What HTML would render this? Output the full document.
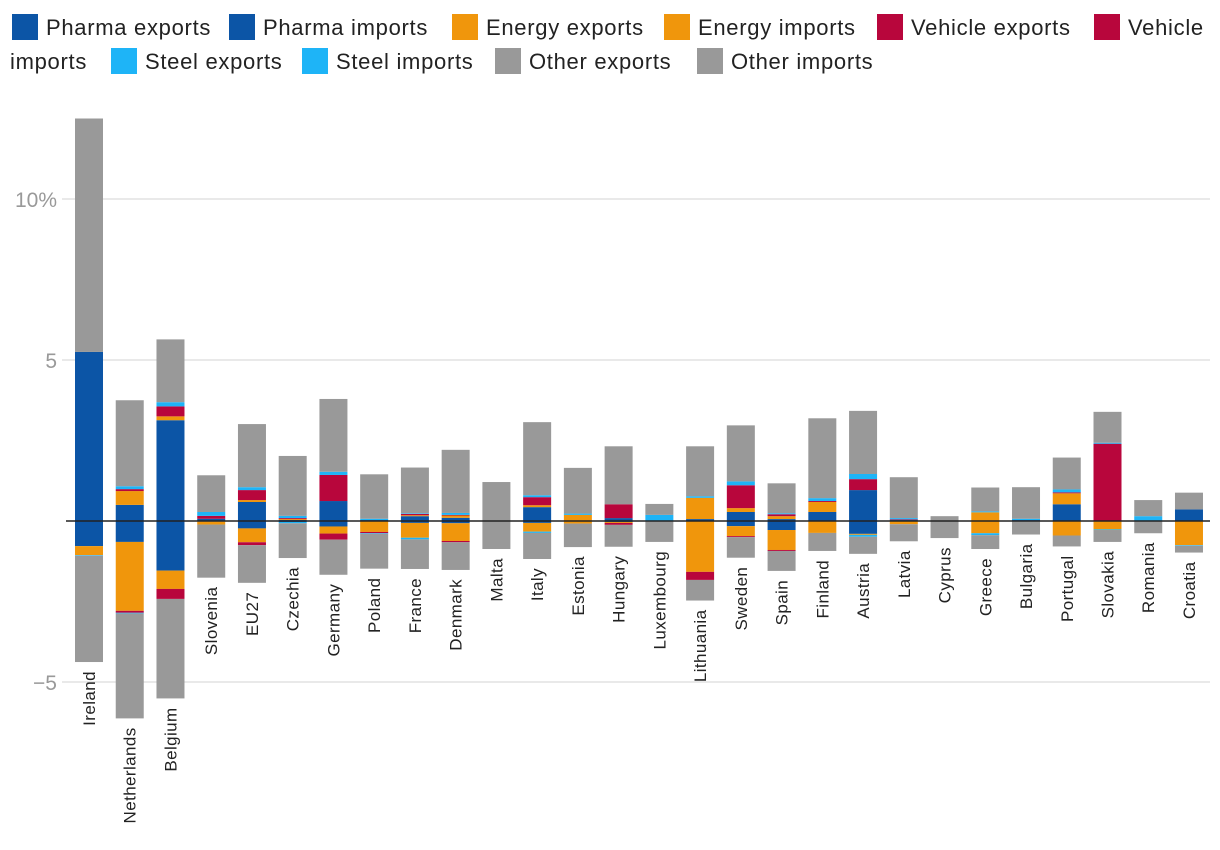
<!DOCTYPE html>
<html><head><meta charset="utf-8"><style>
body{margin:0;background:#fff;width:1220px;height:850px;overflow:hidden;font-family:"Liberation Sans",sans-serif}
svg{position:absolute;left:0;top:0}
</style></head><body>
<svg id="chart" width="1220" height="850"></svg>
<script>
const countries=["Ireland","Netherlands","Belgium","Slovenia","EU27","Czechia","Germany","Poland","France","Denmark","Malta","Italy","Estonia","Hungary","Luxembourg","Lithuania","Sweden","Spain","Finland","Austria","Latvia","Cyprus","Greece","Bulgaria","Portugal","Slovakia","Romania","Croatia"];
const pharmaExp=[5.25,0.5,3.13,0.07,0.59,0.03,0.62,0.03,0.15,0.1,0,0.43,0,0.09,0,0.06,0.28,0.06,0.28,0.96,0.03,0,0,0.03,0.52,0,0,0.36];
const energyExp=[0,0.43,0.12,0,0.06,0.03,0,0,0.03,0.07,0,0.06,0.19,0,0,0.66,0.12,0.09,0.31,0,0,0,0.27,0,0.34,0,0,0];
const vehicleExp=[0,0.06,0.31,0.09,0.31,0.03,0.81,0,0.04,0.02,0,0.25,0,0.43,0,0,0.71,0.06,0.03,0.34,0.02,0,0,0,0.03,2.4,0,0];
const steelExp=[0,0.09,0.13,0.12,0.09,0.07,0.1,0.04,0.02,0.06,0,0.06,0.04,0,0.19,0.05,0.12,0.03,0.09,0.16,0.04,0,0.03,0.04,0.09,0.03,0.15,0];
const otherExp=[7.25,2.67,1.95,1.14,1.96,1.86,2.26,1.38,1.42,1.96,1.21,2.27,1.42,1.8,0.34,1.55,1.74,0.93,2.48,1.96,1.27,0.15,0.74,0.98,0.99,0.96,0.5,0.52];
const pharmaImp=[-0.78,-0.65,-1.54,-0.02,-0.23,-0.03,-0.17,0,-0.06,-0.07,0,-0.06,0,-0.03,0,0,-0.16,-0.28,0,-0.4,0,0,0,0,0,0,0,0];
const energyImp=[-0.28,-2.14,-0.57,-0.09,-0.43,0,-0.22,-0.34,-0.46,-0.55,0,-0.27,-0.08,-0.03,0,-1.58,-0.31,-0.62,-0.37,-0.03,-0.1,0,-0.38,0,-0.45,-0.26,0,-0.75];
const vehicleImp=[0,-0.06,-0.31,0,-0.09,0,-0.19,-0.04,0,-0.04,0,0,0,-0.06,0,-0.25,-0.03,-0.03,0,0,0,0,0,0,0,0,0,0];
const steelImp=[-0.02,-0.02,0,0,0,-0.04,0,-0.02,-0.05,0,0,-0.04,0,0,0,0,0,0,0,-0.06,0,0,-0.06,0,0,-0.02,0,-0.02];
const otherImp=[-3.3,-3.26,-3.09,-1.65,-1.17,-1.08,-1.09,-1.08,-0.92,-0.86,-0.87,-0.81,-0.73,-0.68,-0.65,-0.64,-0.64,-0.62,-0.56,-0.53,-0.53,-0.53,-0.43,-0.42,-0.34,-0.37,-0.38,-0.21];
const yTicks=[10,5,-5];
const yTickLabels=["10%","5","−5"];
const colors=["#0c55a6","#f0960c","#b8063c","#1eb4f7","#999999"];
const legendNames=["Pharma exports","Pharma imports","Energy exports","Energy imports","Vehicle exports","Vehicle imports","Steel exports","Steel imports","Other exports","Other imports"];

const NS="http://www.w3.org/2000/svg";
const svg=document.getElementById('chart');
const y=v=>521-v*32.2;
const xc=i=>89+i*40.74;
function mk(t,a,p){const e=document.createElementNS(NS,t);for(const k in a)e.setAttribute(k,a[k]);(p||svg).appendChild(e);return e;}

yTicks.forEach((t,i)=>{
  const g=mk('line',{x1:62,x2:1210,y1:y(t),y2:y(t),stroke:'#e2e2e2','stroke-width':1.5});
  
  
  const tx=mk('text',{x:57,y:y(t)+8,'text-anchor':'end','font-size':21,fill:'#999'});
  tx.textContent=yTickLabels[i];
  
  
});

const expS=[pharmaExp,energyExp,vehicleExp,steelExp,otherExp];
const impS=[pharmaImp,energyImp,vehicleImp,steelImp,otherImp];
countries.forEach((c,i)=>{
  let acc=0;
  expS.forEach((s,k)=>{
    const v=s[i]; if(!v)return;
    const r=mk('rect',{x:xc(i)-14,width:28,y:y(acc+v),height:v*32.2,fill:colors[k]});
    
    
    acc+=v;
  });
  let nacc=0;
  impS.forEach((s,k)=>{
    const v=s[i]; if(!v)return;
    const r=mk('rect',{x:xc(i)-14,width:28,y:y(nacc),height:-v*32.2,fill:colors[k]});
    
    
    nacc+=v;
  });
  const by=Math.max(y(nacc),521)+9;
  const t=mk('text',{transform:`translate(${xc(i)+6},${by}) rotate(-90)`,'text-anchor':'end','font-size':17,'letter-spacing':0.4,fill:'#222'});
  t.textContent=c;
  
  
});
const z=mk('line',{x1:66,x2:1210,y1:521,y2:521,stroke:'#222','stroke-width':1.5});



const legPos=[[12,14],[229,14],[452,14],[664,14],[877,14],[1094,14],[111,48],[302,48],[495,48],[697,48]];
legendNames.forEach((n,i)=>{
  const [lx,ly]=legPos[i];
  const g=mk('g',{});
  
  
  mk('rect',{x:lx,y:ly,width:26,height:26,fill:colors[Math.floor(i/2)]},g);
  const t=mk('text',{x:lx+34,y:ly+21,'font-size':22,'letter-spacing':0.7,fill:'#222'},g);
  t.textContent=i===5?"Vehicle":n;
});
const w=mk('text',{x:10,y:69,'font-size':22,'letter-spacing':0.7,fill:'#222'});
w.textContent="imports";


</script>
</body></html>
